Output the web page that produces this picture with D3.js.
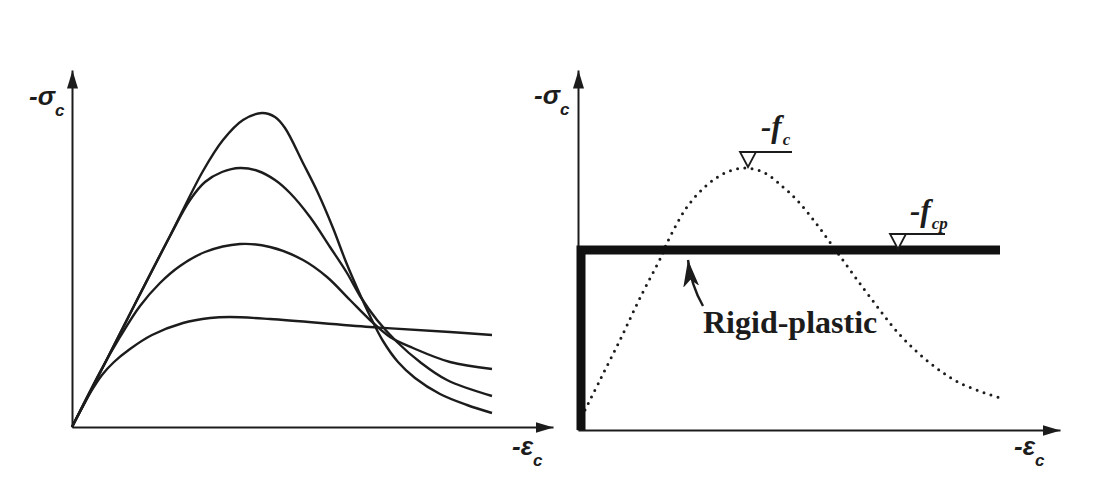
<!DOCTYPE html>
<html><head><meta charset="utf-8">
<script src="https://cdn.jsdelivr.net/npm/d3@7"></script>
<style>body{margin:0;background:#fff}</style>
</head><body>
<svg id="c" width="1098" height="501"></svg>
<script>
// ---- Data (strain, stress) in arbitrary normalized units ----
const curveA = [[0,0],[0.33,0.64],[0.65,1.27],[0.98,1.91],[1.31,2.56],[1.51,2.87],[1.71,3.07],[1.90,3.14],[2.03,3.10],[2.13,2.99],[2.31,2.64],[2.46,2.34],[2.61,1.99],[2.74,1.65],[2.86,1.37],[2.98,1.11],[3.11,0.86],[3.26,0.65],[3.43,0.49],[3.68,0.33],[3.95,0.22],[4.20,0.14]];
const curveB = [[0,0],[0.33,0.64],[0.65,1.27],[0.98,1.91],[1.18,2.27],[1.33,2.45],[1.50,2.55],[1.68,2.59],[1.86,2.56],[2.03,2.47],[2.18,2.34],[2.38,2.10],[2.58,1.80],[2.75,1.54],[2.88,1.31],[3.05,1.07],[3.25,0.85],[3.48,0.65],[3.75,0.47],[4.20,0.31]];
const curveC = [[0,0],[0.28,0.55],[0.48,0.90],[0.68,1.21],[0.88,1.44],[1.08,1.61],[1.33,1.75],[1.68,1.83],[1.98,1.80],[2.31,1.67],[2.55,1.50],[2.78,1.27],[2.98,1.07],[3.18,0.90],[3.41,0.79],[3.78,0.65],[4.20,0.58]];
const curveD = [[0,0],[0.10,0.19],[0.20,0.37],[0.30,0.52],[0.42,0.65],[0.58,0.78],[0.80,0.92],[1.11,1.04],[1.38,1.09],[1.58,1.10],[1.98,1.08],[2.98,1.00],[3.78,0.95],[4.20,0.92]];
const leftCurves = [curveA, curveB, curveC, curveD];

const dotted = [[0.07,0.20],[0.22,0.50],[0.42,0.90],[0.62,1.32],[0.84,1.75],[0.89,1.87],[1.09,2.23],[1.29,2.45],[1.47,2.57],[1.67,2.62],[1.87,2.57],[2.05,2.43],[2.19,2.30],[2.37,2.08],[2.54,1.85],[2.72,1.60],[2.92,1.33],[3.22,0.95],[3.52,0.67],[3.82,0.47],[4.22,0.32]];
const rigidPlastic = [[0.03,0],[0.03,1.80],[4.22,1.80]];
const fc = [1.69, 2.62];
const fcp = [3.19, 1.80];
const rigidArrow = {from:[1.25,1.24], ctrl:[1.13,1.45], to:[1.10,1.70]};
const rigidText = [1.25, 0.97];

const svg = d3.select('#c');
const ink = '#1c1c1c';

const x1 = d3.scaleLinear().domain([0,4.81]).range([72,553]);
const y1 = d3.scaleLinear().domain([0,3.57]).range([427,70]);
const x2 = d3.scaleLinear().domain([0,4.82]).range([578,1060]);
const y2 = d3.scaleLinear().domain([0,3.6]).range([430,70]);

const defs = svg.append('defs');
defs.append('marker').attr('id','ah').attr('markerUnits','userSpaceOnUse')
  .attr('viewBox','0 -7 19 14').attr('refX',18).attr('refY',0)
  .attr('markerWidth',19).attr('markerHeight',14).attr('orient','auto')
  .append('path').attr('d','M0,-5.5L18,0L0,5.5Z').attr('fill',ink);
defs.append('marker').attr('id','barb').attr('markerUnits','userSpaceOnUse')
  .attr('viewBox','-26 -10 28 20').attr('refX',0).attr('refY',0)
  .attr('markerWidth',28).attr('markerHeight',20).attr('orient','auto')
  .append('path').attr('d','M0,0L-27,-8L-20,0L-27,8Z').attr('fill',ink);

function axes(x, y){
  const gx = svg.append('g').attr('transform',`translate(0,${y(0)})`)
    .call(d3.axisBottom(x).tickValues([]).tickSizeOuter(0));
  gx.select('.domain').attr('stroke',ink).attr('stroke-width',2).attr('marker-end','url(#ah)');
  const gy = svg.append('g').attr('transform',`translate(${x(0)},0)`)
    .call(d3.axisLeft(y).tickValues([]).tickSizeOuter(0));
  gy.select('.domain').attr('stroke',ink).attr('stroke-width',2).attr('marker-end','url(#ah)');
}
axes(x1,y1);
axes(x2,y2);

// Left panel curves
const line1 = d3.line().x(d=>x1(d[0])).y(d=>y1(d[1])).curve(d3.curveCatmullRom.alpha(0.5));
svg.append('g').selectAll('path').data(leftCurves).join('path')
  .attr('d',line1).attr('fill','none').attr('stroke',ink).attr('stroke-width',2.4);

// Right panel
const line2 = d3.line().x(d=>x2(d[0])).y(d=>y2(d[1])).curve(d3.curveCatmullRom.alpha(0.5));
svg.append('path').datum(dotted).attr('d',line2).attr('fill','none')
  .attr('stroke',ink).attr('stroke-width',3).attr('stroke-linecap','round')
  .attr('stroke-dasharray','0,7.3');
svg.append('path').datum(rigidPlastic).attr('d',d3.line().x(d=>x2(d[0])).y(d=>y2(d[1])))
  .attr('fill','none').attr('stroke','#111').attr('stroke-width',9).attr('stroke-linejoin','miter');

// level markers
function level(pt, lineLen){
  const px = x2(pt[0]), py = y2(pt[1]) - 1;
  const g = svg.append('g');
  g.append('path').attr('d',`M${px-7},${py-15}L${px+lineLen},${py-15}`).attr('stroke',ink).attr('stroke-width',1.8);
  g.append('path').attr('d',`M${px-7},${py-15}L${px+9},${py-15}L${px+1},${py}Z`)
    .attr('fill','#fff').attr('stroke',ink).attr('stroke-width',1.8).attr('stroke-linejoin','miter');
}
level(fc, 45);
level(fcp, 48);

const fserif = "'Liberation Serif','Times New Roman',serif";
const fsans = "'Liberation Sans',Arial,sans-serif";

function fLabel(pt, dx, dy, sub){
  const t = svg.append('text').attr('x',x2(pt[0])+dx).attr('y',y2(pt[1])+dy)
    .attr('font-family',fserif).attr('font-weight','bold').attr('font-style','italic')
    .attr('font-size',31).attr('fill',ink);
  t.append('tspan').text('-f');
  t.append('tspan').attr('dy',8).attr('dx',1).attr('font-size',17).text(sub);
}
fLabel(fc, 14, -31, 'c');
fLabel(fcp, 13, -29, 'cp');

// axis labels
function axLabel(px, py, main, size){
  const t = svg.append('text').attr('x',px).attr('y',py)
    .attr('font-family',fsans).attr('font-weight','bold').attr('font-style','italic')
    .attr('font-size',size).attr('fill',ink);
  t.append('tspan').text(main);
  t.append('tspan').attr('dy',11).attr('font-size',17).text('c');
}
axLabel(x1(0)-43, y1(3.57)+35, '-σ', 26);
axLabel(x2(0)-44, y2(3.6)+34, '-σ', 26);
axLabel(x1(4.81)-41, y1(0)+28, '-ε', 26);
axLabel(x2(4.82)-46, y2(0)+25, '-ε', 26);

// rigid-plastic annotation
const a = rigidArrow;
svg.append('path')
  .attr('d',`M${x2(a.from[0])},${y2(a.from[1])}Q${x2(a.ctrl[0])},${y2(a.ctrl[1])} ${x2(a.to[0])},${y2(a.to[1])}`)
  .attr('fill','none').attr('stroke',ink).attr('stroke-width',2.4).attr('marker-end','url(#barb)');
svg.append('text').attr('x',x2(rigidText[0])).attr('y',y2(rigidText[1]))
  .attr('font-family',fserif).attr('font-weight','bold').attr('font-size',32)
  .attr('fill',ink).text('Rigid-plastic');
</script>
</body></html>
